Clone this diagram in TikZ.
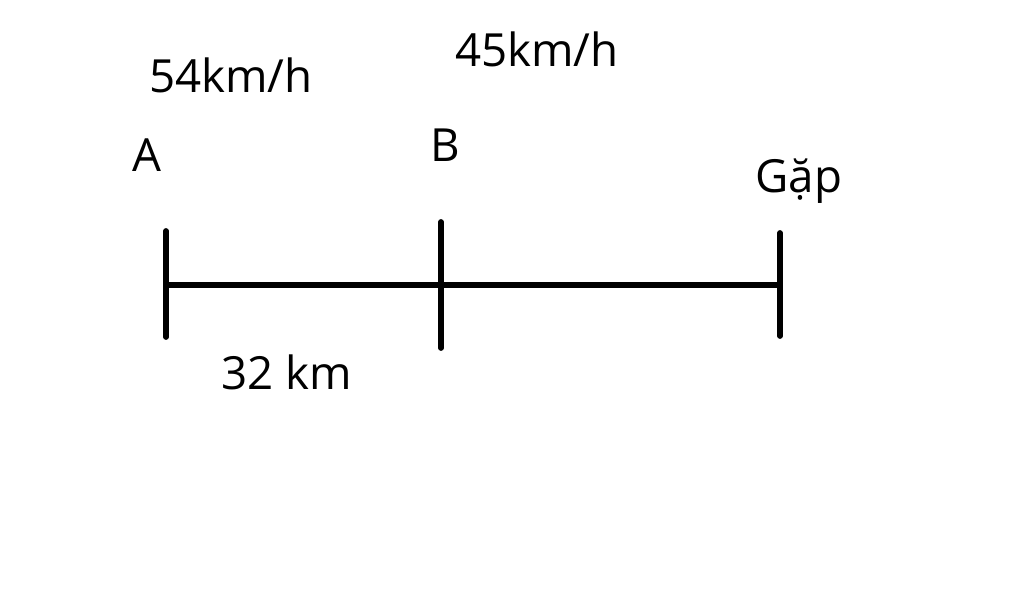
\documentclass[tikz,border=0pt]{standalone}
\usepackage{fontspec}
\setmainfont{Open Sans}
\usetikzlibrary{positioning}

\begin{document}
\begin{tikzpicture}
	[
	x=0.02cm, y=-0.02cm,
	label/.style={draw=none,fill=none,inner sep=0pt,font=\fontsize{26}{30}\selectfont},
	seg/.style={line width=3pt},
	tick/.style={line width=3.3pt,line cap=round}
	]
		\useasboundingbox (0,0) rectangle (1024,590);
		% points on the line
		\coordinate (A) at (166,285);
		\coordinate (B) at (441,285);
		\coordinate (G) at (780,285);
		
		% tick ends
		\coordinate (At) at (166,231);
		\coordinate (Ab) at (166,337);
		\coordinate (Bt) at (441,222);
		\coordinate (Bb) at (441,348);
		\coordinate (Gt) at (780,233);
		\coordinate (Gb) at (780,336);
		
		% labels
		\node[label] (lA) at (147,155) {A};
		\node[label] (lB) at (445,145) {B};
		\node[label] (lG) at (799,181) {Gặp};
		\node[label] (vA) at (231,75) {54km/h};
		\node[label] (vB) at (537,49) {45km/h};
		\node[label] (d) at (287,372) {32 km};
		
		% line and ticks
		\draw[seg] (A) -- (G);
		\foreach \from/\to in {At/Ab,Bt/Bb,Gt/Gb} \draw[tick] (\from) -- (\to);
		
	\end{tikzpicture}
\end{document}
